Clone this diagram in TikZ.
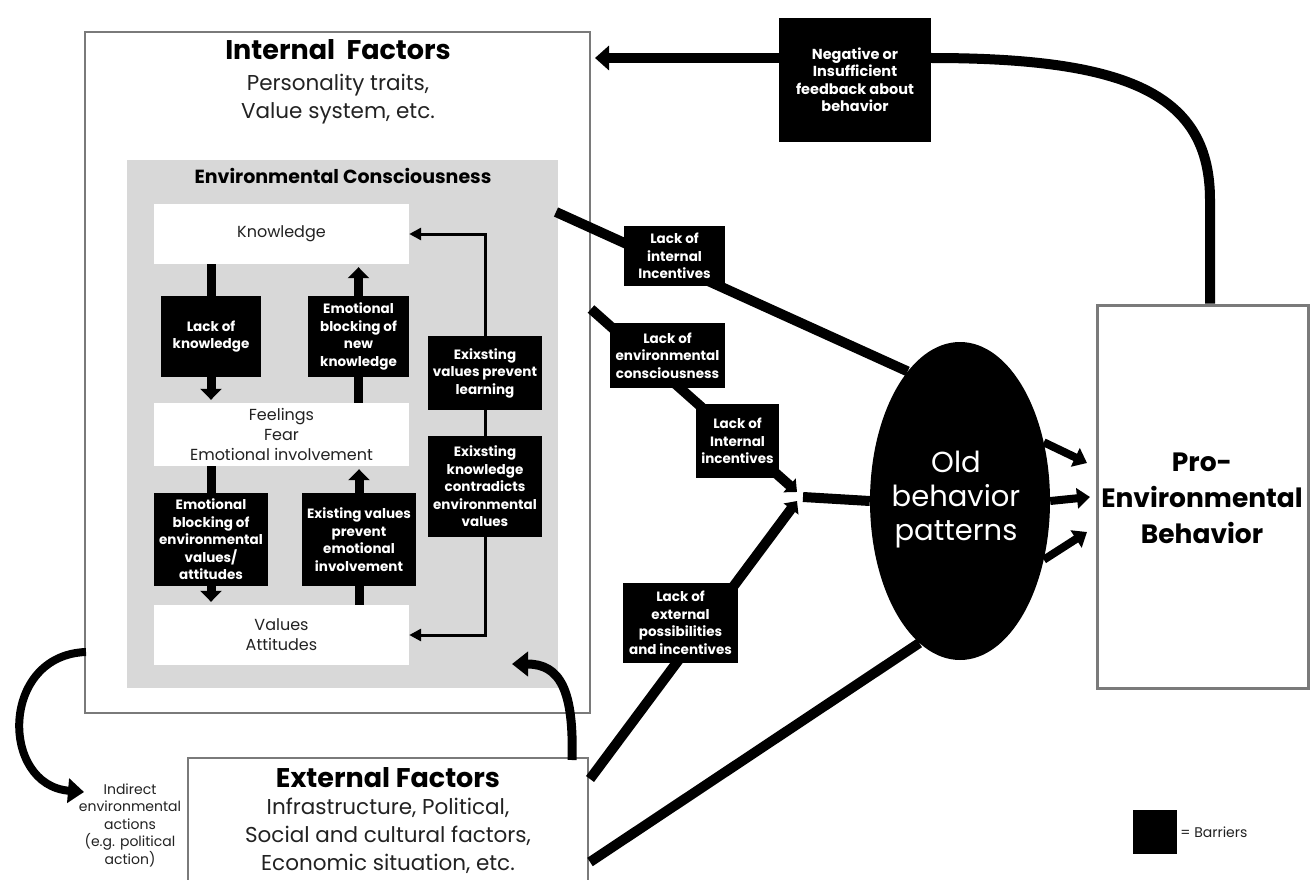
\documentclass[tikz,border=0pt]{standalone}
\usepackage{fontspec}
\setmainfont{Poppins}
\usetikzlibrary{arrows.meta,shapes.geometric}
\definecolor{ecgray}{HTML}{D8D8D8}
\definecolor{boxline}{HTML}{7A7A7A}
\definecolor{txtgray}{HTML}{222222}
\begin{document}
\begin{tikzpicture}[x=1pt,y=-1pt,
  frame/.style={draw=boxline,line width=2pt,fill=white,inner sep=0pt},
  whitebox/.style={fill=white,inner sep=0pt,align=center,text=txtgray,font=\fontsize{16}{20}\selectfont},
  barrier/.style={fill=black,text=white,inner sep=0pt,align=center,font=\bfseries\fontsize{13.5}{17.5}\selectfont},
  stem/.style={line width=9pt},
  stemarr/.style={line width=9pt,-{Triangle[width=21pt,length=11pt]},shorten >=3pt},
  thinarr/.style={line width=3pt,-{Triangle[width=12pt,length=12pt]}},
  big/.style={line width=10pt},
  bigarr/.style={line width=10pt,-{Triangle[width=24pt,length=14pt]}},
  midarr/.style={line width=8pt,-{Triangle[width=20pt,length=13pt]}},
  junctarr/.style={line width=10pt,-{Triangle[width=18pt,length=10pt]}}
]
\useasboundingbox (0,0) rectangle (1314,880);
\clip (0,0) rectangle (1314,880);
\fill[white] (0,0) rectangle (1314,880);

% ---- Internal factors
\node[frame,minimum width=505pt,minimum height=681pt] (internal) at (337.5,372.5) {};
\node[font=\bfseries\fontsize{27}{30}\selectfont] (inttitle) at (338,50) {Internal\ \ Factors};
\node[align=center,text=txtgray,font=\fontsize{21.5}{28}\selectfont] (intsub) at (338,99) {Personality traits,\\Value system, etc.};
\node[fill=ecgray,inner sep=0pt,minimum width=431pt,minimum height=528pt] (ec) at (342.5,424) {};
\node[font=\bfseries\fontsize{19}{22}\selectfont] (ectitle) at (343,176) {Environmental Consciousness};

\node[whitebox,minimum width=255pt,minimum height=60pt] (know) at (281.5,234) {Knowledge};
\node[whitebox,minimum width=255pt,minimum height=63pt] (feel) at (281.5,434.5) {Feelings\\Fear\\Emotional involvement};
\node[whitebox,minimum width=255pt,minimum height=60pt] (vals) at (281.5,635) {Values\\Attitudes};

\node[barrier,minimum width=100pt,minimum height=81pt] (lackk) at (211,336.5) {Lack of\\knowledge};
\node[barrier,minimum width=101pt,minimum height=81pt] (ebnk) at (358.5,336.5) {Emotional\\blocking of\\new\\knowledge};
\node[barrier,minimum width=114pt,minimum height=93pt] (ebev) at (211,539.5) {Emotional\\blocking of\\environmental\\values/\\attitudes};
\node[barrier,minimum width=114pt,minimum height=93pt] (evpe) at (359,539.5) {Existing values\\prevent\\emotional\\involvement};
\node[barrier,minimum width=114pt,minimum height=74pt] (evpl) at (485,373) {Exixsting\\values prevent\\learning};
\node[barrier,minimum width=114pt,minimum height=101pt] (ekce) at (485,486.5) {Exixsting\\knowledge\\contradicts\\environmental\\values};

% inner arrows
\draw[stem] (know.south -| lackk) -- (lackk.north);
\draw[stemarr] (lackk.south) -- (feel.north -| lackk);
\draw[stem] (feel.north -| ebnk) -- (ebnk.south);
\draw[stemarr] (ebnk.north) -- (know.south -| ebnk);
\draw[stem] (feel.south -| ebev) -- (ebev.north);
\draw[stemarr] (ebev.south) -- (vals.north -| ebev);
\draw[stem] (vals.north -| evpe) -- (evpe.south);
\draw[stemarr] (evpe.north) -- (feel.south -| evpe);
\draw[line width=3pt] (evpl.south) -- (ekce.north);
\draw[thinarr] (evpl.north) |- (know.east);
\draw[thinarr] (ekce.south) |- (vals.east);

% ---- External factors
\node[frame,minimum width=400pt,minimum height=130pt] (ext) at (388,823) {};
\node[font=\bfseries\fontsize{27}{30}\selectfont] (exttitle) at (388,778) {External Factors};
\node[align=center,text=txtgray,font=\fontsize{21.5}{28}\selectfont] (extsub) at (388,836) {Infrastructure, Political,\\Social and cultural factors,\\Economic situation, etc.};
\node[align=center,text=txtgray,font=\fontsize{14}{17.5}\selectfont] (indirect) at (130,825) {Indirect\\environmental\\actions\\(e.g. political\\action)};

% ---- Old behavior patterns & Pro-environmental behavior
\node[ellipse,fill=black,inner sep=0pt,minimum width=180pt,minimum height=318pt] (old) at (960,501) {};
\node[align=center,text=white,font=\fontsize{29}{34}\selectfont] (oldtxt) at (956,500) {Old\\behavior\\patterns};
\node[draw=boxline,line width=3pt,fill=white,inner sep=0pt,minimum width=211pt,minimum height=383pt] (pro) at (1202.5,496.5) {};
\node[align=center,font=\bfseries\fontsize{26.5}{36}\selectfont] (protxt) at (1202,498) {Pro-\\Environmental\\Behavior};

% ---- connectors
\coordinate (s1) at (556,212);
\coordinate (s2) at (591,309);
\coordinate (tipA) at (797,492);
\coordinate (tipB) at (797,501);
\coordinate (junc) at (803,497);
\coordinate (e1) at (590,779);
\coordinate (e2) at (590,862);
\draw[big] (s1) -- (old.112);
\draw[junctarr] (s2) -- (tipA);
\draw[junctarr] (e1) -- (tipB);
\draw[big] (junc) -- (old.west);
\draw[big] (e2) -- (old.254);

\coordinate (p1) at (1087,463);
\coordinate (p2) at (1090,497);
\coordinate (p3) at (1087,532);
\draw[midarr] (old.35) -- (p1);
\draw[midarr] (old.east) -- (p2);
\draw[midarr] (old.-35) -- (p3);

% feedback
\node[barrier,font=\bfseries\fontsize{14.5}{17.5}\selectfont,minimum width=152pt,minimum height=124pt] (fb) at (855,80) {Negative or\\Insufficient\\feedback about\\behavior};
\coordinate (fbtip) at (595,58);
\coordinate (fbturn) at (1210,200);
\draw[bigarr] (fb.west |- fbtip) -- (fbtip);
\draw[big] (fb.east |- fbtip) .. controls (1130,58) and (1210,95) .. (fbturn) -- (pro.north -| fbturn);

% curved arrows
\coordinate (c1) at (86,652);
\coordinate (c1tip) at (84,792);
\draw[line width=8pt,-{Triangle[width=24pt,length=16pt]}] (c1) .. controls (0,655) and (0,785) .. (c1tip);
\coordinate (c2) at (572,760);
\coordinate (c2tip) at (512,664);
\draw[line width=9pt,-{Triangle[width=24pt,length=16pt]}] (c2) .. controls (574,690) and (560,664) .. (c2tip);

% outer barriers
\node[barrier,minimum width=101pt,minimum height=60pt] (lii) at (674.5,256) {Lack of\\internal\\Incentives};
\node[barrier,minimum width=115pt,minimum height=65pt] (lec) at (667.5,355.5) {Lack of\\environmental\\consciousness};
\node[barrier,minimum width=83pt,minimum height=74pt] (lii2) at (737.5,441) {Lack of\\Internal\\incentives};
\node[barrier,minimum width=115pt,minimum height=80pt] (lep) at (680.5,623) {Lack of\\external\\possibilities\\and incentives};

% legend
\node[fill=black,inner sep=0pt,minimum size=44pt] (leg) at (1155,832) {};
\node[anchor=west,text=txtgray,font=\fontsize{14}{16}\selectfont,inner sep=3pt] (legtxt) at (leg.east) {= Barriers};
\end{tikzpicture}
\end{document}
